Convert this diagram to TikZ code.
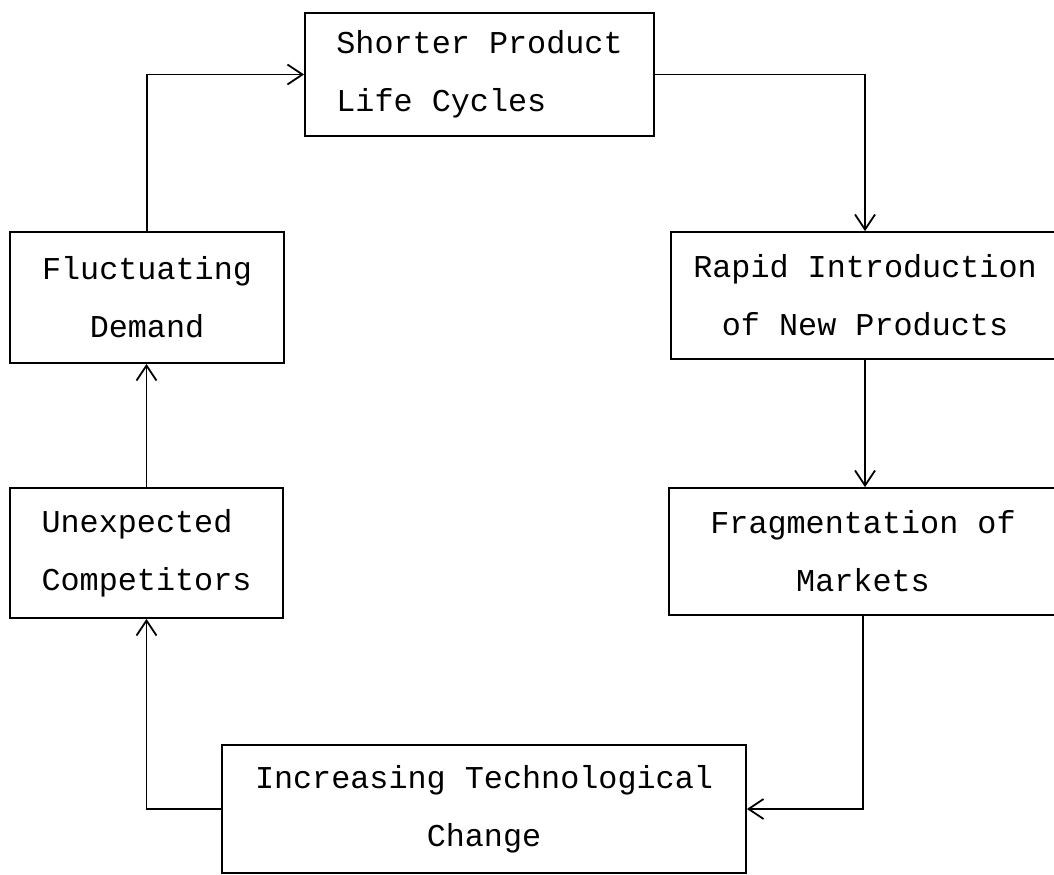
\documentclass[tikz,border=0pt]{standalone}
\usepackage{fontspec}
\setmonofont{Liberation Mono}
\usetikzlibrary{arrows.meta}
\begin{document}
\begin{tikzpicture}[x=0.5pt, y=-0.5pt,
  box/.style={draw, line width=0.9pt, rectangle, inner ysep=0pt,
    font=\ttfamily\fontsize{15.9}{29}\selectfont},
  cbox/.style={box, align=center, minimum width=#1},
  lbox/.style={box, align=left, minimum width=#1},
  link/.style={line width=0.9pt, -{Straight Barb[length=7.5pt, width=10pt, line width=0.9pt]}}]
  \useasboundingbox[fill=white] (0,0) rectangle (1054,874);

  % boxes of the cycle
  \node[lbox=174.5pt, minimum height=61.5pt] (top)  at (479.5,74.5) {Shorter Product\\Life Cycles};
  \node[cbox=194pt,   minimum height=63.5pt] (rip)  at (865,295.5)  {Rapid Introduction\\of New Products};
  \node[cbox=194pt,   minimum height=63.5pt] (frag) at (863,551.5)  {Fragmentation of\\Markets};
  \node[cbox=262pt,   minimum height=64pt]   (itc)  at (484,809)    {Increasing Technological\\Change};
  \node[lbox=136.5pt, minimum height=65pt]   (uc)   at (146.5,553)  {Unexpected\\Competitors};
  \node[cbox=137pt,   minimum height=65.5pt] (fd)   at (147,297.5)  {Fluctuating\\Demand};

  % connectors going round the cycle
  \draw[link] (top.east) -| (rip.north);
  \draw[link] (rip.south) -- (rip.south |- frag.north);
  \draw[link] (frag.south) |- (itc.east);
  \draw[link] (itc.west) -| (uc.south);
  \draw[link] (uc.north) -- (uc.north |- fd.south);
  \draw[link] (fd.north) |- (top.west);
\end{tikzpicture}
\end{document}
